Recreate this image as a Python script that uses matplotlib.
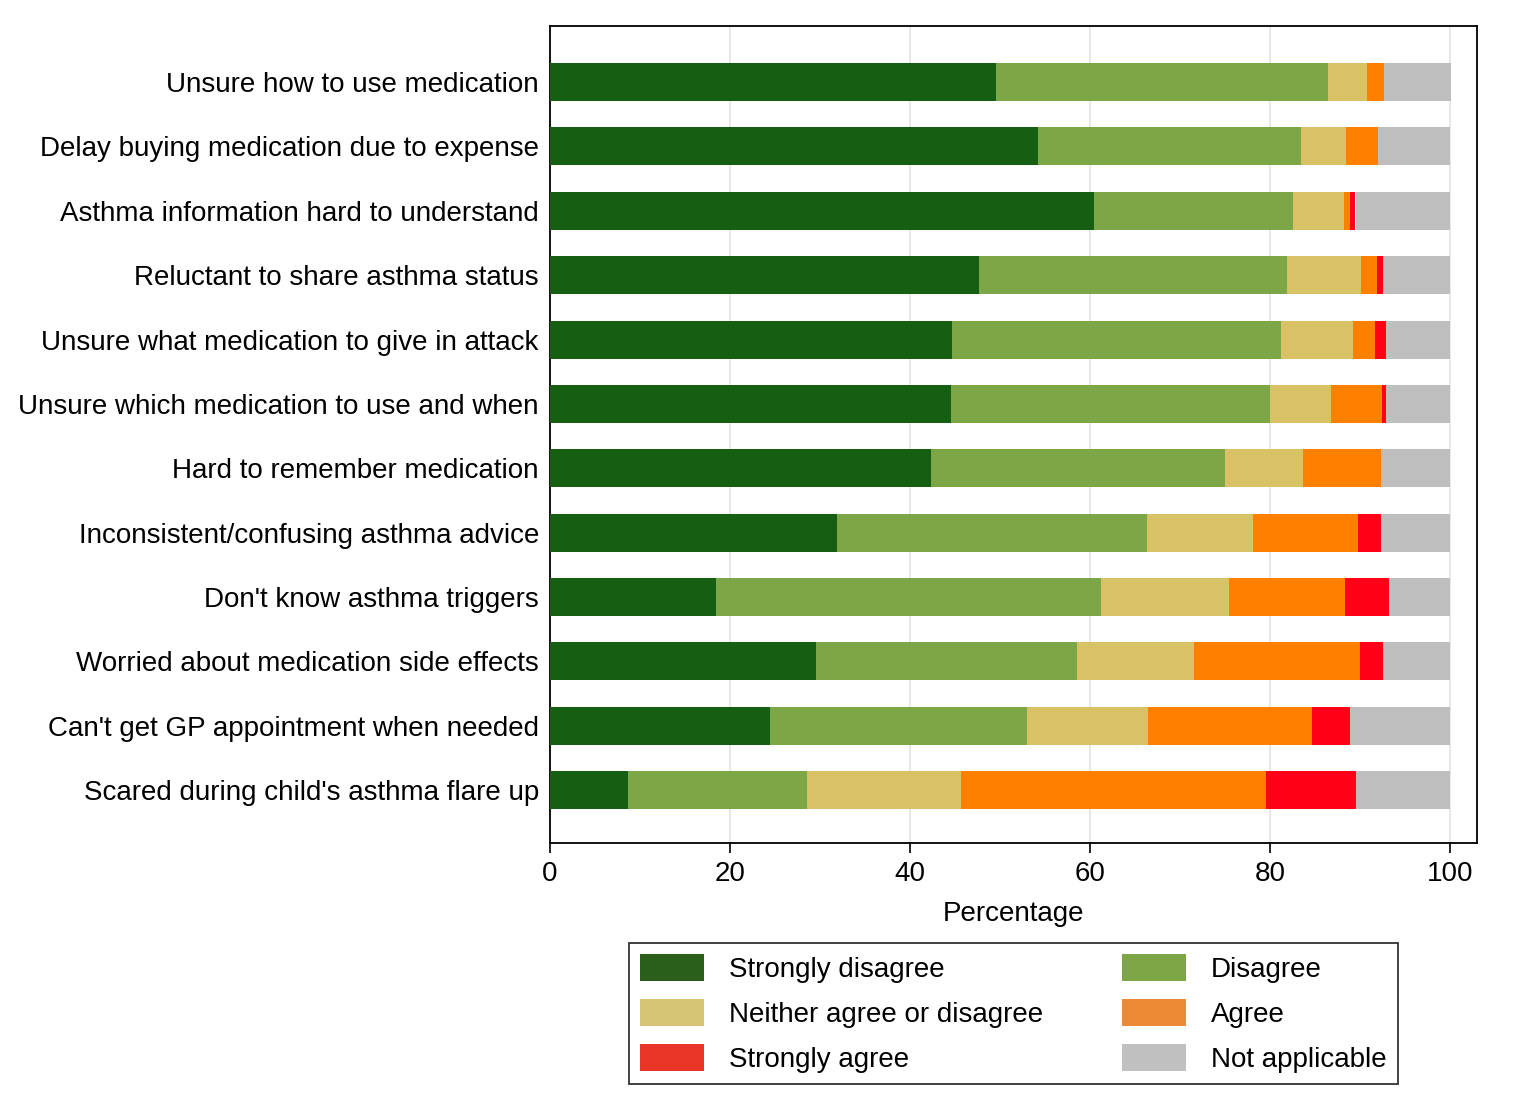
import matplotlib
matplotlib.use('Agg')
import matplotlib.pyplot as plt
from matplotlib.patches import Patch
import numpy as np

plt.rcParams['font.family'] = ['Liberation Sans', 'DejaVu Sans']

# statements, top to bottom
items = [
    "Unsure how to use medication",
    "Delay buying medication due to expense",
    "Asthma information hard to understand",
    "Reluctant to share asthma status",
    "Unsure what medication to give in attack",
    "Unsure which medication to use and when",
    "Hard to remember medication",
    "Inconsistent/confusing asthma advice",
    "Don't know asthma triggers",
    "Worried about medication side effects",
    "Can't get GP appointment when needed",
    "Scared during child's asthma flare up",
]

# percentages
strongly_disagree = [49.5, 54.2, 60.4, 47.7, 44.7, 44.6, 42.3, 31.9, 18.4, 29.6, 24.4, 8.7]
disagree          = [36.9, 29.2, 22.2, 34.2, 36.5, 35.4, 32.7, 34.4, 42.8, 29.0, 28.6, 19.8]
neither           = [4.4, 5.0, 5.6, 8.2, 8.0, 6.8, 8.7, 11.8, 14.2, 13.0, 13.4, 17.2]
agree             = [1.9, 3.6, 0.7, 1.8, 2.5, 5.6, 8.6, 11.7, 12.9, 18.4, 18.3, 33.9]
strongly_agree    = [0.0, 0.0, 0.6, 0.7, 1.2, 0.5, 0.0, 2.5, 4.9, 2.5, 4.2, 9.9]
not_applicable    = [7.4, 8.0, 10.5, 7.4, 7.1, 7.1, 7.7, 7.7, 6.8, 7.5, 11.1, 10.5]

categories = ["Strongly disagree", "Disagree", "Neither agree or disagree",
              "Agree", "Strongly agree", "Not applicable"]
series = [strongly_disagree, disagree, neither, agree, strongly_agree, not_applicable]
bar_colors = ['#165E12', '#7DA646', '#D9C266', '#FF8000', '#FF0018', '#BEBEBE']
legend_colors = ['#2B5E1B', '#7DA646', '#D6C576', '#EE8A35', '#E93528', '#C0C0C0']

fig = plt.figure(figsize=(15.14, 11.06), dpi=100)
ax = fig.add_axes([550/1514, 1 - 843/1106, (1477-550)/1514, (843-26)/1106])

y = np.arange(len(items))
left = np.zeros(len(items))
for vals, col in zip(series, bar_colors):
    vals = np.array(vals)
    ax.barh(y, vals, left=left, height=0.59, color=col, zorder=3)
    left += vals

ax.set_ylim(len(items) - 1 + 0.82, -0.87)
ax.set_xlim(0, 103)
ax.set_xticks([0, 20, 40, 60, 80, 100])
ax.set_yticks(y)
ax.set_yticklabels(items, fontsize=20)
ax.tick_params(axis='y', length=0, pad=8)
ax.tick_params(axis='x', labelsize=20, length=7, width=1.2, pad=6)
ax.xaxis.grid(True, color='#e8e8e8', lw=1.5, zorder=0)
ax.set_xlabel("Percentage", fontsize=20, labelpad=10)
for s in ax.spines.values():
    s.set_linewidth(1.3)

# legend: row-wise order in two columns
order = [0, 2, 4, 1, 3, 5]
handles = [Patch(facecolor=legend_colors[i], edgecolor='none') for i in order]
labels = [categories[i] for i in order]
leg = ax.legend(handles, labels, ncol=2, loc='upper center',
                bbox_to_anchor=(0.5, -0.1224), fontsize=20, frameon=True,
                fancybox=False, edgecolor='black', handlelength=2.3,
                handleheight=1.1, columnspacing=2.85, labelspacing=0.58,
                handletextpad=0.9, borderpad=0.4, borderaxespad=0)
leg.get_frame().set_linewidth(1.3)

plt.savefig('out.png', dpi=100)
plt.close()
